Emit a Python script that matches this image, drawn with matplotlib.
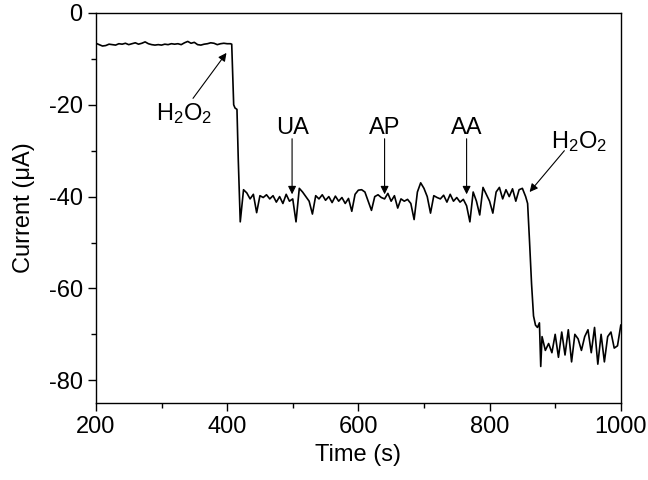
import numpy as np
import matplotlib
matplotlib.use("Agg")
import matplotlib.pyplot as plt
from matplotlib.ticker import MultipleLocator

plt.rcParams['font.family'] = ['Liberation Sans', 'DejaVu Sans']
plt.rcParams['mathtext.default'] = 'regular'
plt.rcParams['font.size'] = 17
plt.rcParams['axes.unicode_minus'] = False

# baseline before first H2O2 addition (every 5 s from 200 s)
base_i = [-6.6, -6.9, -7.2, -7.1, -6.8, -6.9, -7.0, -6.7, -6.8, -6.6,
          -6.9, -6.7, -6.5, -6.8, -6.6, -6.3, -6.7, -6.9, -7.0, -6.9,
          -7.0, -6.8, -6.9, -6.7, -6.8, -6.7, -6.9, -6.5, -6.2, -6.6,
          -6.4, -6.9, -7.0, -6.8, -6.7, -6.5, -6.6, -6.9, -6.7, -6.6,
          -6.7, -6.7]
base_t = list(200 + 5 * np.arange(len(base_i)))

# first step
step1_t = [407, 410, 412, 415, 417]
step1_i = [-6.8, -20.0, -20.7, -21.0, -32.0]

# plateau after first H2O2 (UA, AP, AA added), every 5 s from 420 s
mid_i = [-45.5, -38.5, -39.2, -40.5, -39.5, -43.5, -39.8, -40.2, -39.6, -40.5,
         -39.8, -41.2, -40.0, -41.5, -39.5, -41.0, -40.5, -45.5, -38.2, -39.0,
         -40.0, -41.0, -43.8, -39.8, -40.5, -39.6, -40.8, -40.0, -41.3, -39.9,
         -41.0, -40.2, -41.5, -40.4, -43.2, -39.5, -38.6, -38.5, -39.0, -41.0,
         -43.0, -40.0, -39.6, -40.2, -40.5, -39.3, -41.0, -39.8, -42.5, -40.5,
         -41.0, -40.6, -41.5, -45.0, -39.0, -37.0, -38.2, -40.0, -43.6, -39.8,
         -40.2, -40.5, -39.7, -41.2, -39.5, -41.0, -40.2, -41.2, -40.6, -42.0,
         -45.5, -39.0, -41.0, -44.0, -38.0, -39.5, -41.0, -43.6, -39.0, -38.0,
         -40.5, -38.5, -40.0, -38.3, -41.0, -38.5, -38.2, -40.0]
mid_t = list(420 + 5 * np.arange(len(mid_i)))

# second H2O2 step
step2_t = [858, 861, 864, 867, 870, 873, 876, 878]
step2_i = [-41.5, -50.0, -59.0, -66.0, -68.0, -68.5, -67.5, -77.0]

# final plateau, every 5 s from 880 s
end_i = [-70.5, -73.5, -72.0, -74.0, -70.0, -75.0, -69.5, -74.5, -69.0, -76.0,
         -70.0, -71.0, -73.5, -70.5, -69.0, -74.0, -68.5, -76.5, -70.0, -76.0,
         -70.5, -69.5, -73.0, -72.5, -68.0]
end_t = list(880 + 5 * np.arange(len(end_i)))

time = base_t + step1_t + mid_t + step2_t + end_t
current = base_i + step1_i + mid_i + step2_i + end_i

fig = plt.figure(figsize=(6.48, 4.8), dpi=100)
ax = fig.add_axes([0.148, 0.160, 0.810, 0.813])
ax.plot(time, current, color='k', lw=1.2)

arrow = dict(arrowstyle='-|>', color='k', lw=0.8, mutation_scale=12,
             shrinkA=0, shrinkB=0)
ax.text(335, -22.0, 'H$_2$O$_2$', ha='center', va='center')
ax.annotate('', xy=(399, -8.7), xytext=(348, -18.6), arrowprops=arrow)
for lbl, tx in [('UA', 499), ('AP', 640), ('AA', 765)]:
    ax.text(tx, -25.0, lbl, ha='center', va='center')
    ax.annotate('', xy=(tx, -39.5), xytext=(tx, -27.4), arrowprops=arrow)
ax.text(937, -28.0, 'H$_2$O$_2$', ha='center', va='center')
ax.annotate('', xy=(861, -39.0), xytext=(914, -30.0), arrowprops=arrow)

ax.set_xlim(200, 1000)
ax.set_ylim(-85, 0)
ax.xaxis.set_major_locator(MultipleLocator(200))
ax.xaxis.set_minor_locator(MultipleLocator(100))
ax.yaxis.set_major_locator(MultipleLocator(20))
ax.yaxis.set_minor_locator(MultipleLocator(10))
ax.tick_params(which='major', direction='out', length=6, width=1)
ax.tick_params(which='minor', direction='out', length=3.5, width=1)
for s in ax.spines.values():
    s.set_linewidth(1)

ax.set_xlabel('Time (s)', labelpad=4)
ax.set_ylabel('Current (μA)', labelpad=10)

fig.savefig('out.png', dpi=100)
